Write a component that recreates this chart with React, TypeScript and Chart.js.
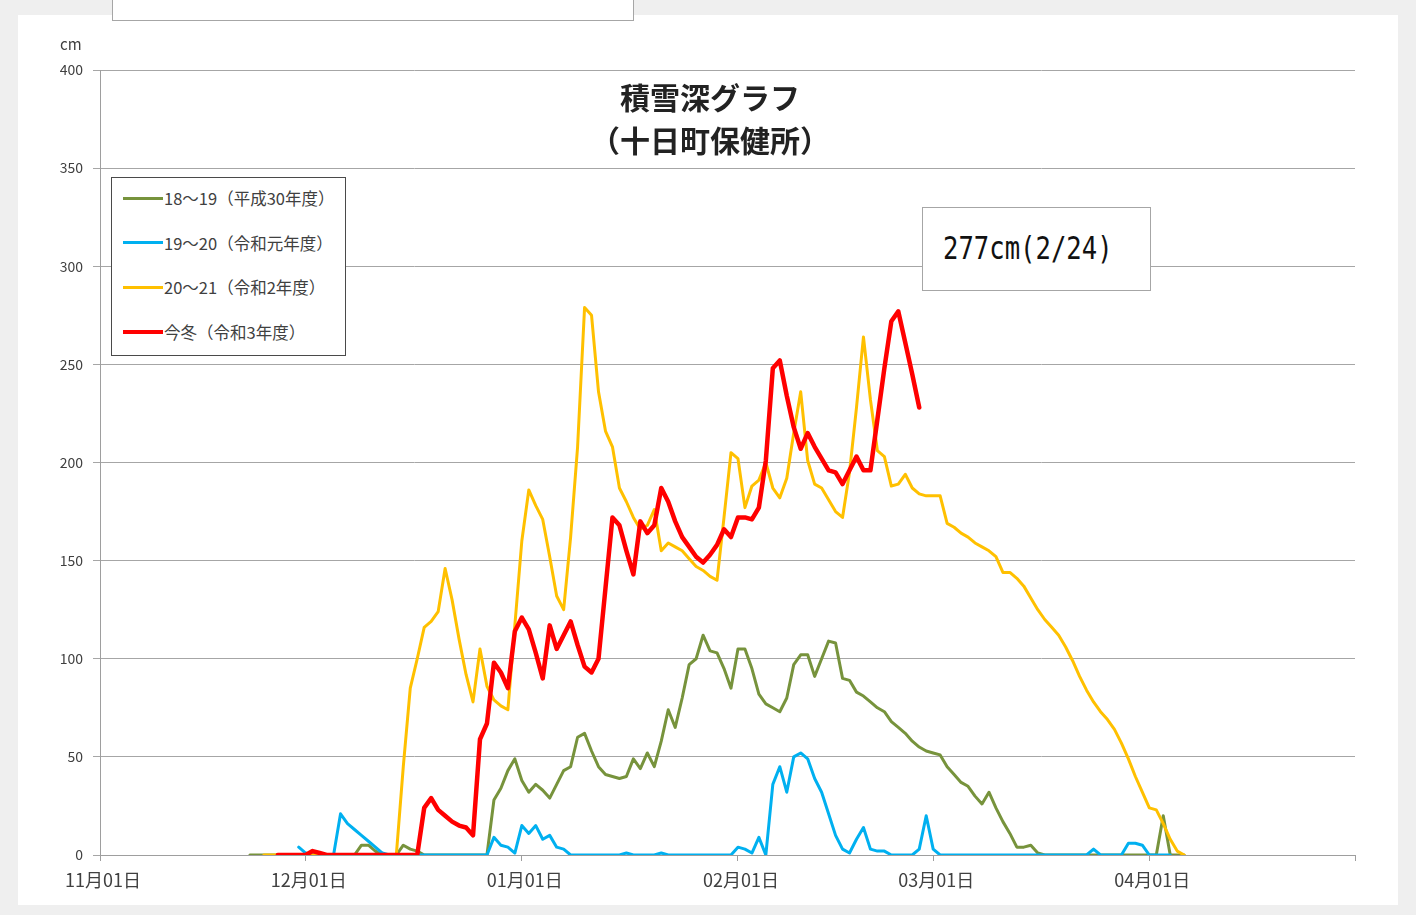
import React, { useEffect, useRef } from "react";
import { Chart, registerables } from "chart.js";

Chart.register(...registerables);

// x axis: day index counted from 11月01日 (= day 0)
const xAxisMin = 0.5;
const xAxisMax = 180.5;
const monthTickDays = [0.5, 30, 61, 92, 120, 151, 180.5];
const monthTickLabels = ["11月01日", "12月01日", "01月01日", "02月01日", "03月01日", "04月01日", ""];
const yAxisMin = 0;
const yAxisMax = 400;
const yAxisStep = 50;

const chartTitle = ["積雪深グラフ", "（十日町保健所）"];
const yUnit = "cm";
const maxNote = "277cm(2/24)";

const seriesLabels = [
  "18～19（平成30年度）",
  "19～20（令和元年度）",
  "20～21（令和2年度）",
  "今冬（令和3年度）",
];
const seriesColors = ["#77933C", "#00B0F0", "#FFC000", "#FF0000"];
const seriesWidths = [3, 3, 3, 4.5];

// 18～19（平成30年度）
const h30StartDay = 22;
const h30Depth = [
  0, 0, 0, 0, 0, 0, 0, 0, 0, 0, 0, 0, 0, 0, 0,
  0, 5, 5, 2, 0, 0, 0, 5, 3, 2, 0,
  0, 0, 0, 0, 0, 0, 0, 0, 0,
  28, 34, 43, 49, 38, 32, 36, 33, 29, 36, 43, 45, 60, 62, 53, 45, 41, 40, 39, 40,
  49, 44, 52, 45, 58, 74, 65, 80, 97, 100, 112, 104,
  103, 95, 85, 105, 105, 95, 82, 77, 75, 73, 80, 97, 102, 102, 91, 100, 109, 108,
  90, 89, 83, 81, 78, 75, 73, 68, 65, 62, 58, 55, 53, 52, 51, 45, 41, 37, 35, 30,
  26, 32, 24, 17, 11, 4, 4, 5, 1, 0,
  0, 0, 0, 0, 0, 0, 0, 0, 0, 0, 0, 0, 0, 0, 0, 0,
  20, 0, 0, 0,
];

// 19～20（令和元年度）
const r1StartDay = 29;
const r1Depth = [
  4, 1, 0, 0, 0, 0, 21, 16, 13, 10, 7, 4, 1,
  0, 0, 0, 0, 0, 0, 0, 0, 0, 0, 0, 0, 0, 0, 0,
  9, 5, 4, 1, 15, 11, 15, 8, 10, 4, 3, 0,
  0, 0, 0, 0, 0, 0, 0, 1, 0, 0, 0, 0, 1,
  0, 0, 0, 0, 0, 0, 0, 0, 0, 0,
  4, 3, 1, 9, 0, 36, 45, 32, 50, 52, 49, 39, 32, 21, 10, 3, 1, 8, 14, 3, 2, 2,
  0, 0, 0, 0, 3, 20, 3,
  0, 0, 0, 0, 0, 0, 0, 0, 0, 0, 0, 0, 0, 0, 0, 0, 0, 0, 0, 0, 0, 0,
  3, 0, 0, 0, 0, 6, 6, 5, 0, 0, 0, 0,
];

// 20～21（令和2年度）
const r2StartDay = 24;
const r2Depth = [
  0, 0, 0, 0, 0, 0, 0, 0, 0, 0, 0, 0, 0, 0, 0, 0, 0, 0, 0, 0,
  45, 85, 100, 116, 119, 124, 146, 130, 110, 92, 78, 105, 86, 79, 76, 74, 117,
  160, 186, 178, 171, 152, 132, 125, 162, 208, 279, 275, 236, 216, 208, 187, 180,
  172, 166, 168, 176, 155, 159, 157, 155, 151, 147, 145, 142, 140, 172, 205, 202,
  177, 188, 191, 200, 187, 182, 192, 215, 236, 201, 189, 187, 181, 175, 172, 195,
  228, 264, 232, 206, 203, 188, 189, 194, 187, 184, 183, 183, 183, 169, 167, 164,
  162, 159, 157, 155, 152, 144, 144, 141, 137, 131, 125, 120, 116, 112, 106, 99,
  91, 84, 78, 73, 69, 64, 57, 49, 40, 32, 24, 23, 16, 8, 2, 0,
];

// 今冬（令和3年度）
const r3StartDay = 26;
const r3Depth = [
  0, 0, 0, 0, 0, 2, 1,
  0, 0, 0, 0, 0, 0, 0, 0, 0, 0, 0, 0, 0, 0,
  24, 29, 23, 20, 17, 15, 14, 10, 59, 67, 98, 93, 85, 114, 121, 115, 103, 90, 117,
  105, 112, 119, 107, 96, 93, 100, 136, 172, 168, 155, 143, 170, 164, 168, 187, 180,
  170, 162, 157, 152, 149, 153, 158, 166, 162, 172, 172, 171, 177, 201, 248, 252,
  234, 218, 207, 215, 208, 202, 196, 195, 189, 196, 203, 196, 196, 222, 248, 272,
  277, 261, 245, 228,
];

const toPoints = (start: number, values: number[]) =>
  values.map((v, i) => ({ x: start + i, y: v }));

const tickFont = "'Noto Sans CJK JP', 'Noto Sans', sans-serif";

export default function App() {
  const canvasRef = useRef<HTMLCanvasElement | null>(null);

  useEffect(() => {
    document.body.style.margin = "0";
    const canvas = canvasRef.current;
    if (!canvas) return;
    const starts = [h30StartDay, r1StartDay, r2StartDay, r3StartDay];
    const values = [h30Depth, r1Depth, r2Depth, r3Depth];
    const drawOrder = [3, 2, 1, 0];
    const chart = new Chart(canvas, {
      type: "line",
      data: {
        datasets: seriesLabels.map((label, i) => ({
          label,
          data: toPoints(starts[i], values[i]),
          borderColor: seriesColors[i],
          backgroundColor: seriesColors[i],
          borderWidth: seriesWidths[i],
          pointRadius: 0,
          tension: 0,
          fill: false,
          order: drawOrder[i],
          borderJoinStyle: "round" as const,
          borderCapStyle: "round" as const,
        })),
      },
      options: {
        animation: false,
        responsive: false,
        maintainAspectRatio: false,
        layout: { padding: { left: 0, right: 61, top: 70, bottom: 0 } },
        plugins: {
          legend: { display: false },
          tooltip: { enabled: false },
          title: { display: false },
        },
        scales: {
          x: {
            type: "linear",
            min: xAxisMin,
            max: xAxisMax,
            afterBuildTicks: (axis: any) => {
              axis.ticks = monthTickDays.map((v) => ({ value: v }));
            },
            afterFit: (axis: any) => {
              axis.height = 60;
            },
            ticks: {
              autoSkip: false,
              maxRotation: 0,
              minRotation: 0,
              padding: 8,
              labelOffset: 3,
              color: "#404040",
              font: { family: tickFont, size: 18 },
              callback: (_v: any, idx: number) => monthTickLabels[idx],
            },
            grid: {
              drawOnChartArea: false,
              drawTicks: true,
              tickLength: 6,
              color: "#9e9e9e",
              lineWidth: 1,
            },
            border: { display: true, color: "#9e9e9e", width: 1 },
          },
          y: {
            min: yAxisMin,
            max: yAxisMax,
            afterFit: (axis: any) => {
              axis.width = 100;
            },
            ticks: {
              stepSize: yAxisStep,
              padding: 10,
              color: "#404040",
              font: { family: tickFont, size: 14 },
            },
            grid: {
              color: "#a6a6a6",
              lineWidth: 1,
              drawTicks: true,
              tickLength: 7,
            },
            border: { display: true, color: "#9e9e9e", width: 1 },
          },
        },
      },
    });
    return () => chart.destroy();
  }, []);

  return (
    <div
      style={{
        position: "fixed",
        left: 0,
        top: 0,
        width: 1416,
        height: 915,
        background: "#efefef",
        overflow: "hidden",
        fontFamily: tickFont,
        textSpacingTrim: "space-all",
      } as any}
    >
      <div
        style={{
          position: "absolute",
          left: 18,
          top: 15,
          width: 1380,
          height: 890,
          background: "#ffffff",
        }}
      />
      <div
        style={{
          position: "absolute",
          left: 112,
          top: -6,
          width: 520,
          height: 25,
          background: "#ffffff",
          border: "1px solid #a6a6a6",
        }}
      />
      <canvas
        ref={canvasRef}
        width={1416}
        height={915}
        style={{ position: "absolute", left: 0, top: 0, width: 1416, height: 915 }}
      />
      <div
        style={{
          position: "absolute",
          left: 60,
          top: 35,
          fontSize: 15,
          color: "#404040",
          lineHeight: "18px",
        }}
      >
        {yUnit}
      </div>
      <div
        style={{
          position: "absolute",
          left: 0,
          top: 75,
          width: 1420,
          textAlign: "center",
          fontSize: 30,
          fontWeight: 700,
          lineHeight: "43px",
          color: "#222",
          textSpacingTrim: "space-all",
        } as any}
      >
        <div>{chartTitle[0]}</div>
        <div>{chartTitle[1]}</div>
      </div>
      <div
        style={{
          position: "absolute",
          left: 111,
          top: 177,
          width: 233,
          height: 177,
          background: "#ffffff",
          border: "1.5px solid #4a4a4a",
        }}
      >
        {seriesLabels.map((label, i) => (
          <div
            key={label}
            style={{
              position: "absolute",
              left: 11,
              top: 8 + i * 44.7,
              height: 24,
              display: "flex",
              alignItems: "center",
              whiteSpace: "nowrap",
            }}
          >
            <span
              style={{
                display: "inline-block",
                width: 40,
                height: seriesWidths[i],
                background: seriesColors[i],
              }}
            />
            <span style={{ fontSize: 16.5, color: "#404040", marginLeft: 1 }}>{label}</span>
          </div>
        ))}
      </div>
      <div
        style={{
          position: "absolute",
          left: 922,
          top: 207,
          width: 227,
          height: 82,
          background: "#ffffff",
          border: "1px solid #a6a6a6",
        }}
      >
        <div
          style={{
            position: "absolute",
            left: 20,
            top: 20,
            fontFamily: "'DejaVu Sans Mono', monospace",
            fontSize: 32,
            lineHeight: "40px",
            color: "#111",
            transform: "scaleX(0.8)",
            transformOrigin: "left center",
            whiteSpace: "nowrap",
          }}
        >
          {maxNote}
        </div>
      </div>
    </div>
  );
}
